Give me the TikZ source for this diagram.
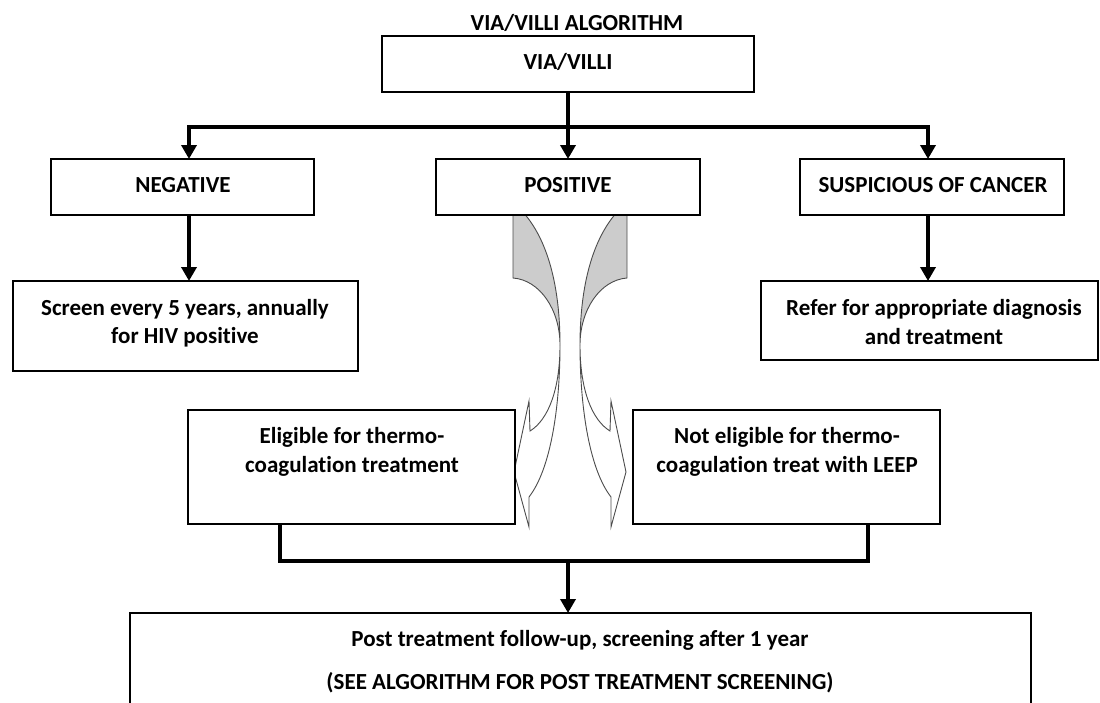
\documentclass[tikz,border=0pt]{standalone}
\usepackage{fontspec}
\setmainfont{Carlito}[Ligatures={NoCommon}]
\usetikzlibrary{arrows.meta}
\begin{document}
\begin{tikzpicture}[x=1pt,y=-1pt,
  every node/.style={font=\fontsize{23}{28.5}\selectfont\bfseries},
  box/.style={draw, line width=2.6pt, fill=white, rectangle, inner sep=0pt, outer sep=0pt},
  txt/.style={align=center, inner sep=0pt},
  conn/.style={line width=3.6pt, line cap=butt},
  arr/.style={conn, -{Triangle[length=14pt,width=15pt]}},
  backface/.style={fill=black!20, draw=black!70, line width=0.9pt},
  frontface/.style={fill=white, draw=black!70, line width=0.9pt, line join=miter}]
\useasboundingbox (0,0) rectangle (1100,702);
\clip (0,0) rectangle (1100,702);

% curved arrows (drawn first, boxes overlap their tails)
\newcommand{\mycurvedarrow}{%
  \path[backface] (513,200) -- (513,278)
     .. controls (540,280) and (560,310) .. (560,345)
     .. controls (560,280) and (545,235) .. (521,210) -- (515,200) -- cycle;
  \path[frontface] (560,345)
     .. controls (560,390) and (548,420) .. (530,431)
     -- (529,401) -- (514,472) -- (529,527) -- (529,497)
     .. controls (550,470) and (560,410) .. (560,345) -- cycle;}
\mycurvedarrow
\begin{scope}[xshift=1140pt, xscale=-1]
\mycurvedarrow
\end{scope}

% title
\node[txt] (title) at (577,23) {VIA/VILLI ALGORITHM};

% boxes
\node[box, minimum width=372pt, minimum height=56pt] (via) at (568,64) {};
\node[txt] (viat) at (568,62) {VIA/VILLI};

\node[box, minimum width=263pt, minimum height=56pt] (neg) at (182.5,187) {};
\node[txt] (negt) at (183,185) {NEGATIVE};
\node[box, minimum width=264pt, minimum height=56pt] (pos) at (568,187) {};
\node[txt] (post) at (568,185) {POSITIVE};
\node[box, minimum width=264pt, minimum height=56pt] (susp) at (932,187) {};
\node[txt] (suspt) at (933,185) {SUSPICIOUS OF CANCER};

\node[box, minimum width=345pt, minimum height=90pt] (screen) at (185.5,326) {};
\node[txt] (screent) at (185,323) {Screen every 5 years, annually\\for HIV positive};

\node[box, minimum width=337pt, minimum height=79pt] (refer) at (929.5,320.5) {};
\node[txt] (refert) at (934,322) {Refer for appropriate diagnosis\\and treatment};

\node[box, minimum width=327pt, minimum height=114pt] (elig) at (351.5,467) {};
\node[txt] (eligt) at (352,452) {Eligible for thermo-\\coagulation treatment};

\node[box, minimum width=307pt, minimum height=114pt] (notel) at (786.5,467) {};
\node[txt] (notelt) at (787,452) {Not eligible for thermo-\\coagulation treat with LEEP};

\node[box, minimum width=901pt, minimum height=130pt] (fup) at (580.5,678) {};
\node[txt] (fupa) at (580,640) {Post treatment follow-up, screening after 1 year};
\node[txt] (fupb) at (580,683) {(SEE ALGORITHM FOR POST TREATMENT SCREENING)};

% connectors
\coordinate (busC) at (568,127);
\coordinate (busL) at (189,127);
\coordinate (busR) at (928,127);
\draw[conn] (via.south) -- (busC);
\draw[conn, line cap=rect] (busL) -- (busR);
\draw[arr] (busL) -- (busL |- neg.north);
\draw[arr] (busC) -- (busC |- pos.north);
\draw[arr] (busR) -- (busR |- susp.north);

\draw[arr] (busL |- neg.south) -- (busL |- screen.north);
\draw[arr] (busR |- susp.south) -- (busR |- refer.north);

\coordinate (joinL) at (280,561);
\coordinate (joinR) at (868,561);
\coordinate (joinC) at (568,561);
\draw[conn, line join=miter] (joinL |- elig.south) -- (joinL) -- (joinR) -- (joinR |- notel.south);
\draw[arr] (joinC) -- (joinC |- fup.north);
\end{tikzpicture}
\end{document}
